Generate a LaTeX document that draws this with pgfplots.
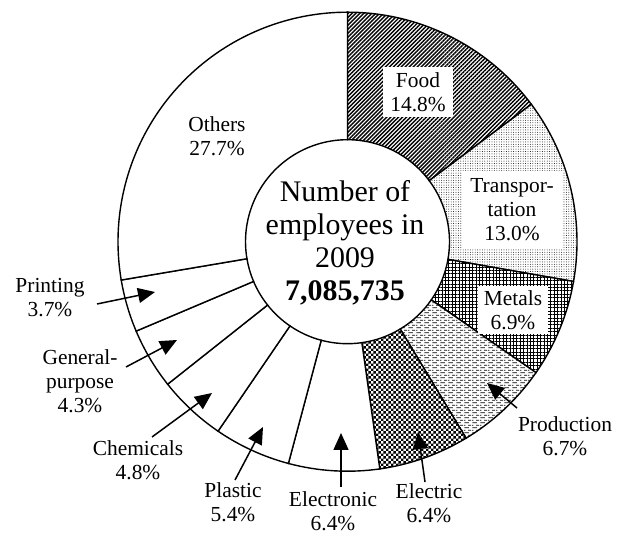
\documentclass[border=0pt]{standalone}
\usepackage{fontspec}
\setmainfont{Liberation Serif}
\usepackage{pgfplots}
\usepackage{pgfplotstable}
\pgfplotsset{compat=1.18}
\usetikzlibrary{patterns,patterns.meta,arrows.meta}

\pgfdeclarepatternformonly{checker}{\pgfpointorigin}{\pgfpoint{5.4bp}{5.4bp}}{\pgfpoint{5.4bp}{5.4bp}}{%
  \pgfpathrectangle{\pgfpointorigin}{\pgfpoint{2.7bp}{2.7bp}}%
  \pgfpathrectangle{\pgfpoint{2.7bp}{2.7bp}}{\pgfpoint{2.7bp}{2.7bp}}%
  \pgfusepath{fill}}
\pgfdeclarepatternformonly{hdash}{\pgfpointorigin}{\pgfpoint{8bp}{5.4bp}}{\pgfpoint{8bp}{5.4bp}}{%
  \pgfsetlinewidth{0.8bp}%
  \pgfpathmoveto{\pgfpoint{0.5bp}{1.35bp}}\pgfpathlineto{\pgfpoint{5.5bp}{1.35bp}}%
  \pgfpathmoveto{\pgfpoint{4.5bp}{4.05bp}}\pgfpathlineto{\pgfpoint{8bp}{4.05bp}}%
  \pgfpathmoveto{\pgfpoint{0bp}{4.05bp}}\pgfpathlineto{\pgfpoint{1.5bp}{4.05bp}}%
  \pgfusepath{stroke}}

\pgfplotstableread{
name value
Food 14.8
Transportation 13.0
Metals 6.9
Production 6.7
Electric 6.4
Electronic 6.4
Plastic 5.4
Chemicals 4.8
General-purpose 4.3
Printing 3.7
Others 27.7
}\slices

\def\Rout{229.5bp}
\def\Rin{102bp}
\tikzset{
  wedge/.style={draw=black, line width=1.4bp, preaction={fill=white}},
  pfood/.style={pattern={Lines[angle=45,distance=2.8bp,line width=1.4bp]}},
  ptrans/.style={pattern={Dots[distance=2.4bp,radius=0.45bp]}},
  pmetal/.style={pattern={Hatch[angle=0,distance=3.4bp,line width=0.8bp]}},
  pprod/.style={pattern=hdash},
  pelec/.style={pattern=checker},
  pnone/.style={fill=white},
  lab/.style={font=\fontsize{21.5}{24}\selectfont, align=center, inner sep=5bp},
  arr/.style={line width=1.5bp, -{Triangle[length=17bp,width=15bp]}},
}
\newcommand\slice[2]{%
  \edef\sa{\csname sa#1\endcsname}\edef\sb{\csname sb#1\endcsname}%
  \edef\tmp{\noexpand\filldraw[wedge,#2] ([shift={(\sa:\Rout)}]axis cs:0,0) arc[start angle=\sa,end angle=\sb,radius=\Rout] -- ([shift={(\sb:\Rin)}]axis cs:0,0) arc[start angle=\sb,end angle=\sa,radius=\Rin] -- cycle;}%
  \tmp}

\begin{document}
\begin{tikzpicture}
\xdef\total{0}
\foreach \i in {0,...,10}{\pgfplotstablegetelem{\i}{value}\of\slices
  \pgfmathsetmacro\t{\total+\pgfplotsretval}\xdef\total{\t}}
\xdef\cum{0}
\foreach \i in {0,...,10}{%
  \pgfplotstablegetelem{\i}{value}\of\slices
  \pgfmathsetmacro\a{90-360*(\cum/\total)}%
  \pgfmathsetmacro\c{\cum+\pgfplotsretval}%
  \xdef\cum{\c}%
  \pgfmathsetmacro\b{90-360*(\cum/\total)}%
  \expandafter\xdef\csname sa\i\endcsname{\a}%
  \expandafter\xdef\csname sb\i\endcsname{\b}%
}
\begin{axis}[x=1bp, y=1bp, xmin=-347.5, xmax=273.5, ymin=-290.3, ymax=241.7,
  hide axis, clip=false]
\path (axis cs:-347.5,-290.3) rectangle (axis cs:273.5,241.7);
\slice{0}{pfood}
\slice{1}{ptrans}
\slice{2}{pmetal}
\slice{3}{pprod}
\slice{4}{pelec}
\slice{5}{pnone}
\slice{6}{pnone}
\slice{7}{pnone}
\slice{8}{pnone}
\slice{9}{pnone}
\slice{10}{pnone}
% arrows
\draw[arr] (axis cs:169.5,-166.3) -- (axis cs:139.5,-141.3);
\draw[arr] (axis cs:77.5,-240.3) -- (axis cs:70.5,-190.3);
\draw[arr] (axis cs:-6.5,-245.3) -- (axis cs:-6.5,-191.3);
\draw[arr] (axis cs:-112.5,-238.3) -- (axis cs:-84.5,-185.3);
\draw[arr] (axis cs:-195.5,-195.3) -- (axis cs:-135.5,-151.3);
\draw[arr] (axis cs:-221.5,-125.3) -- (axis cs:-170.5,-98.3);
\draw[arr] (axis cs:-250.5,-62.3) -- (axis cs:-192.5,-50.3);
% labels
\node[lab, fill=white, inner xsep=7bp] at (axis cs:70.5,149.7) {Food\\14.8\%};
\node[lab, fill=white, inner xsep=8bp, inner ysep=8bp] at (axis cs:164.5,31.7) {Transpor-\\tation\\13.0\%};
\node[lab, fill=white, inner xsep=6bp, inner ysep=4bp] at (axis cs:165.5,-68.3) {Metals\\6.9\%};
\node[lab] at (axis cs:-130.5,105.7) {Others\\27.7\%};
\node[lab] at (axis cs:-297.5,-56.3) {Printing\\3.7\%};
\node[lab] at (axis cs:-267.5,-139.3) {General-\\purpose\\4.3\%};
\node[lab] at (axis cs:-209.5,-218.3) {Chemicals\\4.8\%};
\node[lab] at (axis cs:-114.5,-260.3) {Plastic\\5.4\%};
\node[lab] at (axis cs:-14.5,-269.3) {Electronic\\6.4\%};
\node[lab] at (axis cs:81.5,-261.3) {Electric\\6.4\%};
\node[lab] at (axis cs:217.5,-194.3) {Production\\6.7\%};
\node[font=\fontsize{30}{33}\selectfont, align=center, inner sep=0pt] at (axis cs:-2.5,-1.3) {Number of\\employees in\\2009\\\textbf{7,085,735}};
\end{axis}
\end{tikzpicture}
\end{document}
